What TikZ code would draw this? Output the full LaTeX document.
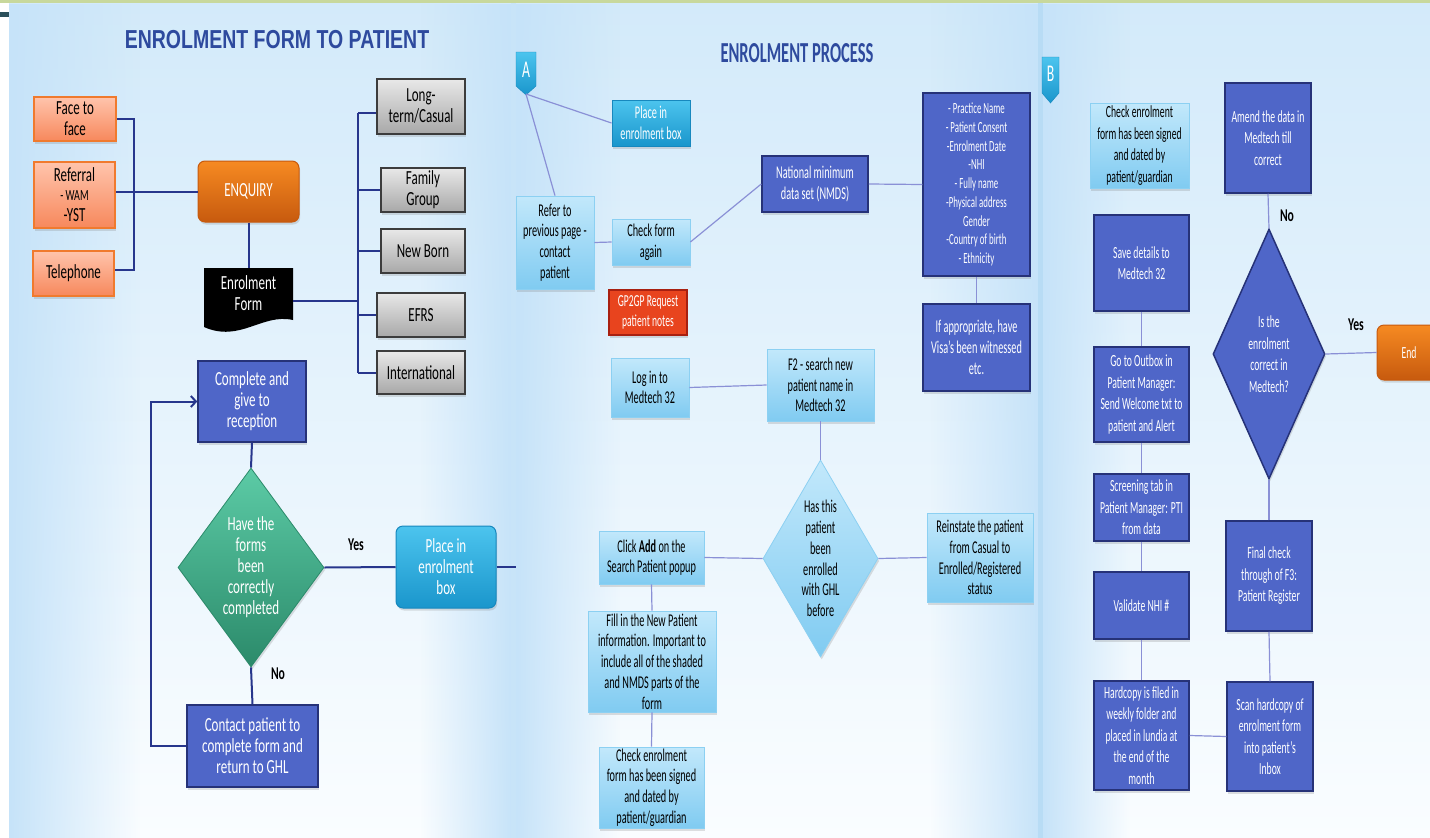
\documentclass[tikz,border=0pt]{standalone}
\usepackage{fontspec}
\usepackage{graphicx}
\setmainfont{Carlito}[FakeStretch=0.57]
\newfontfamily\wfont{Carlito}[FakeStretch=0.65]
\newfontfamily\tonefont{Liberation Sans}[FakeStretch=0.75]
\newfontfamily\ttwofont{Carlito}[FakeStretch=0.57]
\usetikzlibrary{shapes.geometric,shadows,arrows.meta,fadings}
\definecolor{navy}{HTML}{27368C}
\definecolor{lav}{HTML}{8A90D6}
\definecolor{bfill}{HTML}{4F66C8}
\definecolor{bdraw}{HTML}{263278}
\definecolor{lbtop}{HTML}{C2E8FB}
\definecolor{lbbot}{HTML}{80CBF1}
\definecolor{lbdraw}{HTML}{8CD0F2}
\definecolor{ortop}{HTML}{FFC4AC}
\definecolor{orbot}{HTML}{F7885C}
\definecolor{ordraw}{HTML}{F07A2E}
\definecolor{entop}{HTML}{F68A22}
\definecolor{enbot}{HTML}{C75A0E}
\definecolor{grtop}{HTML}{E8E8E8}
\definecolor{grbot}{HTML}{A8A8A8}
\definecolor{grdraw}{HTML}{3C3C3C}
\definecolor{tltop}{HTML}{4CC4EE}
\definecolor{tlbot}{HTML}{1A96CC}
\definecolor{tldraw}{HTML}{1788BE}
\definecolor{gntop}{HTML}{5CCBA6}
\definecolor{gnbot}{HTML}{2B8A6A}
\definecolor{redf}{HTML}{E8441E}
\definecolor{redd}{HTML}{A82010}
\definecolor{ttl}{HTML}{2E4A9E}
\definecolor{bgtop}{HTML}{D3EAFA}
\definecolor{bgmid}{HTML}{EEF7FE}
\definecolor{bgbot}{HTML}{FAFDFF}
\definecolor{bgside}{HTML}{C6E3F9}
\definecolor{strip}{HTML}{C8D89C}
\definecolor{sepa}{HTML}{C8E4F8}
\definecolor{sepb}{HTML}{B8DCF5}
\definecolor{darkbar}{HTML}{2A4F5A}
\begin{document}
\begin{tikzpicture}[x=1pt,y=-1pt,
  ft1/.style={font=\wfont\fontsize{20}{21}\selectfont, align=center},
  ft2/.style={font=\fontsize{18}{20.7}\selectfont, align=center},
  ft3/.style={font=\fontsize{17}{21.5}\selectfont, align=center},
  sh/.style={drop shadow={shadow xshift=1.2pt, shadow yshift=-2.5pt, opacity=0.25}},
  bx/.style={rectangle, inner sep=1pt, sh},
  obox/.style={bx, draw=ordraw, line width=1.2pt, top color=ortop, bottom color=orbot, ft1},
  enbox/.style={bx, rounded corners=7pt, draw=enbot, line width=1pt, top color=entop, bottom color=enbot, text=white, ft1},
  gbox/.style={bx, draw=grdraw, line width=1.2pt, top color=grtop, bottom color=grbot, ft1},
  bbox/.style={bx, draw=bdraw, line width=1.5pt, fill=bfill, text=white},
  lbox/.style={bx, draw=lbdraw, line width=0.8pt, top color=lbtop, bottom color=lbbot, text=black},
  tbox/.style={bx, rounded corners=7pt, draw=tldraw, line width=1pt, top color=tltop, bottom color=tlbot, text=white},
  dl/.style={draw=navy, line width=2pt},
  ll/.style={draw=lav, line width=1.2pt},
  lab/.style={font=\wfont\bfseries\fontsize{18}{20}\selectfont, text=black},
  dia/.style={diamond, inner sep=0pt, sh}
]
\useasboundingbox (0,0) rectangle (1430,838);
% background
\fill[white] (0,0) rectangle (1430,838);
\shade[top color=bgtop, middle color=bgmid, bottom color=bgbot] (9,3) rectangle (513,838);
\shade[top color=bgtop, middle color=bgmid, bottom color=bgbot] (513,3) rectangle (1040,838);
\shade[top color=bgtop, middle color=bgmid, bottom color=bgbot] (1043,3) rectangle (1430,838);
\fill[bgside, path fading=east] (9,3) rectangle (140,838);
\fill[bgside, path fading=west] (420,3) rectangle (513,838);
\fill[bgside, path fading=east] (516,3) rectangle (620,838);
\fill[bgside, path fading=west] (930,3) rectangle (1040,838);
\fill[bgside, path fading=east] (1043,3) rectangle (1130,838);
\fill[sepa] (511,3) rectangle (516,838);
\fill[sepb] (1038,3) rectangle (1043,838);
\fill[strip] (0,0) rectangle (1430,3);
\fill[darkbar] (0,12) rectangle (9,17);

% titles
\node[font=\tonefont\bfseries\fontsize{26}{28}\selectfont, text=ttl] (t1) at (277,40) {ENROLMENT FORM TO PATIENT};
\node[font=\ttwofont\bfseries\fontsize{29}{30}\selectfont, text=ttl] (t2) at (797,53) {ENROLMENT PROCESS};

% ---------- panel 1 ----------
\node[obox, minimum width=82, minimum height=44] (f2f) at (75,119) {Face to\\face};
\node[obox, minimum width=81, minimum height=66] (ref) at (74.5,195) {Referral\\[-2pt]\fontsize{15.5}{17}\selectfont - WAM\\-YST};
\node[obox, minimum width=81, minimum height=45] (tel) at (73.5,273.5) {Telephone};
\node[enbox, minimum width=101, minimum height=61] (enq) at (248.5,191.5) {ENQUIRY};
\fill[black] (204,268) -- (293,268) -- (293,320) .. controls (262,313) and (240,343) .. (204,327) -- cycle;
\node[ft1, text=white, minimum width=89, minimum height=50, inner sep=0pt] (form) at (248.5,293) {Enrolment\\Form};
\node[gbox, minimum width=88, minimum height=55] (lt) at (421,106.5) {Long-\\term/Casual};
\node[gbox, minimum width=84, minimum height=44] (fg) at (423,190) {Family\\Group};
\node[gbox, minimum width=84, minimum height=44] (nb) at (423,251) {New Born};
\node[gbox, minimum width=88, minimum height=44] (efrs) at (421,315) {EFRS};
\node[gbox, minimum width=88, minimum height=43] (intl) at (421,372.5) {International};
\node[bbox, ft1, minimum width=108, minimum height=81] (comp) at (252,401.5) {Complete and\\give to\\reception};
\node[dia, minimum width=146, minimum height=199, top color=gntop, bottom color=gnbot, draw=gnbot, line width=0.8pt] (d1) at (251,567.5) {};
\node[ft1, text=white] (d1t) at (d1.center) {Have the\\forms\\been\\correctly\\completed};
\node[tbox, ft1, minimum width=100, minimum height=82] (pib) at (446,567) {Place in\\enrolment\\box};
\node[bbox, ft1, minimum width=131, minimum height=82] (cont) at (252.5,746) {Contact patient to\\complete form and\\return to GHL};
\node[lab] (yes1) at (356,545) {Yes};
\node[lab] (no1) at (278,674) {No};
\coordinate (bk) at (358,301);
\coordinate (bt) at (358,113);
\coordinate (bb) at (358,373);
\coordinate (pibR) at (516,567);

\draw[dl] (f2f.east) -- ++(17,0) |- ([yshift=4pt]tel.east);
\draw[dl] (ref.east |- enq.west) -- (enq.west);
\draw[dl] (enq.south) -- (form.north);
\draw[dl] ([yshift=-8pt]form.east) -- (bk);
\draw[dl] (bt) -- (bb);
\draw[dl] (bt) -- (bt -| lt.west);
\draw[dl] (fg.west -| bt) -- (fg.west);
\draw[dl] (nb.west -| bt) -- (nb.west);
\draw[dl] (efrs.west -| bt) -- (efrs.west);
\draw[dl] (intl.west -| bt) -- (intl.west);
\draw[dl, -{Straight Barb[length=5pt,width=11pt]}] (cont.west) -- ++(-35,0) |- (comp.west);
\draw[dl] (comp.south) -- (d1.north);
\draw[dl] (d1.east) -- (pib.west);
\draw[dl] (d1.south) -- (cont.north);
\draw[dl] (pib.east) -- (pibR);

% ---------- panel 2 ----------
\shade[top color=tltop, bottom color=tlbot, draw=tldraw] (516,52) -- (536,52) -- (536,86) -- (526,95) -- (516,86) -- cycle;
\node[font=\fontsize{24}{24}\selectfont, text=white] (tabA) at (526,70) {A};
\coordinate (Atip) at (526,94);
\node[tbox, rounded corners=0pt, ft2, minimum width=78, minimum height=46] (pib2) at (651,123) {Place in\\enrolment box};
\node[lbox, ft2, minimum width=78, minimum height=93] (refer) at (555,242.5) {Refer to\\previous page -\\contact\\patient};
\node[lbox, ft2, minimum width=78, minimum height=46] (chk) at (651,242) {Check form\\again};
\node[bbox, ft2, minimum width=106, minimum height=56] (nmds) at (815,184) {National minimum\\data set (NMDS)};
\node[bbox, ft2, font=\fontsize{15.5}{18.7}\selectfont, minimum width=107, minimum height=183] (list) at (976.5,184.5) {- Practice Name\\- Patient Consent\\-Enrolment Date\\-NHI\\- Fully name\\-Physical address\\Gender\\-Country of birth\\- Ethnicity};
\node[bbox, ft2, minimum width=107, minimum height=87] (visa) at (976.5,347.5) {If appropriate, have\\Visa’s been witnessed\\etc.};
\node[bx, draw=redd, line width=1.2pt, fill=redf, text=white, ft2, font=\fontsize{16.8}{20}\selectfont, minimum width=78, minimum height=45] (gp) at (648,312.5) {GP2GP Request\\patient notes};
\node[lbox, ft2, minimum width=78, minimum height=59] (login) at (650,387.5) {Log in to\\Medtech 32};
\node[lbox, ft2, minimum width=107, minimum height=72] (f2) at (820.5,385) {F2 - search new\\patient name in\\Medtech 32};
\node[dia, minimum width=115, minimum height=197, top color=lbtop, bottom color=lbbot, draw=lbdraw, line width=0.8pt] (d2) at (820.5,558.5) {};
\node[ft2, text=black] (d2t) at (d2.center) {Has this\\patient\\been\\enrolled\\with GHL\\before};
\node[lbox, ft2, minimum width=105, minimum height=53] (click) at (651.5,557.5) {Click \textbf{Add} on the\\Search Patient popup};
\node[lbox, ft2, minimum width=106, minimum height=89] (reinst) at (980,557.5) {Reinstate the patient\\from Casual to\\Enrolled/Registered\\status};
\node[lbox, ft2, minimum width=128, minimum height=101] (fill) at (652,661.5) {Fill in the New Patient\\information. Important to\\include all of the shaded\\and NMDS parts of the\\form};
\node[lbox, ft2, minimum width=105, minimum height=81] (chk2) at (651.5,787.5) {Check enrolment\\form has been signed\\and dated by\\patient/guardian};

\draw[ll] (Atip) -- (pib2.west);
\draw[ll] (Atip) -- (refer.north);
\draw[ll] (refer.east) -- (chk.west);
\draw[ll] (chk.east) -- (nmds.west);
\draw[ll] (nmds.east) -- (list.west);
\draw[ll] (list.south) -- (visa.north);
\draw[ll] (login.east) -- (f2.west);
\draw[ll] (f2.south) -- (d2.north);
\draw[ll] (click.east) -- (d2.west);
\draw[ll] (d2.east) -- (reinst.west);
\draw[ll] (click.south) -- (fill.north);
\draw[ll] (fill.south) -- (chk2.north);

% ---------- panel 3 ----------
\shade[top color=tltop, bottom color=tlbot, draw=tldraw] (1042,57) -- (1059,57) -- (1059,93) -- (1050.5,103) -- (1042,93) -- cycle;
\node[font=\fontsize{24}{24}\selectfont, text=white] (tabB) at (1050.5,74) {B};
\node[lbox, ft3, minimum width=99, minimum height=85] (chk3) at (1139.5,145.5) {Check enrolment\\form has been signed\\and dated by\\patient/guardian};
\node[bbox, ft3, minimum width=95, minimum height=96] (save) at (1141.5,263) {Save details to\\Medtech 32};
\node[bbox, ft3, minimum width=95, minimum height=95] (outbox) at (1141.5,394.5) {Go to Outbox in\\Patient Manager:\\Send Welcome txt to\\patient and Alert};
\node[bbox, ft3, minimum width=95, minimum height=67] (screen) at (1141.5,507.5) {Screening tab in\\Patient Manager: PTI\\from data};
\node[bbox, ft3, minimum width=95, minimum height=67] (valid) at (1141.5,605.5) {Validate NHI \#};
\node[bbox, ft3, minimum width=95, minimum height=109] (hard) at (1141.5,735.5) {Hardcopy is filed in\\weekly folder and\\placed in lundia at\\the end of the\\month};
\node[bbox, ft3, minimum width=86, minimum height=110] (amend) at (1268,138) {Amend the data in\\Medtech till\\correct};
\node[dia, minimum width=112, minimum height=250, fill=bfill, draw=bdraw, line width=1.5pt] (d3) at (1269,354) {};
\node[ft3, text=white] (d3t) at (d3.center) {Is the\\enrolment\\correct in\\Medtech?};
\node[enbox, ft3, minimum width=64, minimum height=55] (end) at (1409,352.5) {End};
\node[bbox, ft3, minimum width=86, minimum height=110] (final) at (1269,576) {Final check\\through of F3:\\Patient Register};
\node[bbox, ft3, minimum width=86, minimum height=109] (scan) at (1270,736.5) {Scan hardcopy of\\enrolment form\\into patient’s\\Inbox};
\node[lab] (no3) at (1287,216) {No};
\node[lab] (yes3) at (1356,325) {Yes};

\draw[ll] (save.south) -- (outbox.north);
\draw[ll] (outbox.south) -- (screen.north);
\draw[ll] (screen.south) -- (valid.north);
\draw[ll] (valid.south) -- (hard.north);
\draw[ll] (hard.east) -- (scan.west);
\draw[ll] (scan.north) -- (final.south);
\draw[ll] (final.north) -- (d3.south);
\draw[ll] (d3.north) -- (amend.south);
\draw[ll] (d3.east) -- (end.west);
\end{tikzpicture}
\end{document}
